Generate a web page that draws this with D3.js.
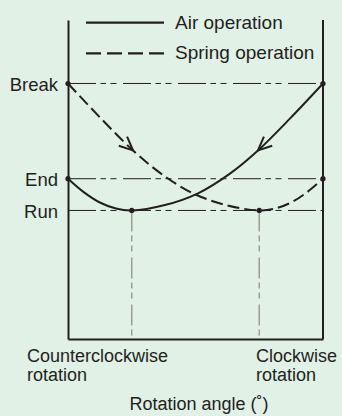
<!DOCTYPE html>
<html>
<head>
<meta charset="utf-8">
<script src="https://cdn.jsdelivr.net/npm/d3@7"></script>
<style>
  html, body { margin: 0; padding: 0; background: #e1f1e6; }
  #chart { width: 342px; height: 416px; }
  text { font-family: "Liberation Sans", Arial, sans-serif; fill: #231f20; }
</style>
</head>
<body>
<div id="chart"></div>
<script>
// levels on the torque axis
const levelNames = ["Break", "End", "Run"];
const levelValues = [5, 2, 1];

// rotation angle (0 = counterclockwise end, 100 = clockwise end)
const airX = [0, 6.3, 12.5, 18.8, 25, 38, 51, 63.5, 74.5, 87.1, 100];
const airY = [2, 1.57, 1.25, 1.06, 1, 1.17, 1.54, 2.16, 2.89, 3.9, 5];
const springX = [0, 12.9, 25.5, 36.5, 49, 62, 75, 81.2, 87.5, 93.7, 100];
const springY = [5, 3.9, 2.89, 2.16, 1.54, 1.17, 1, 1.06, 1.25, 1.57, 2];

// minimum points (run torque) for each operation
const minX = [25, 75];

const seriesNames = ["Air operation", "Spring operation"];
const xLabels = [["Counterclockwise", "rotation"], ["Clockwise", "rotation"]];
const xTitle = "Rotation angle (\u02da)";

const width = 342, height = 416;
const margin = { top: 20, right: 19, bottom: 77, left: 68 };

const svg = d3.select("#chart")
  .append("svg")
  .attr("width", width)
  .attr("height", height);

const x = d3.scaleLinear()
  .domain([0, 100])
  .range([margin.left, width - margin.right]);

const y = d3.scaleLinear()
  .domain([-3.05, 7])
  .range([height - margin.bottom, margin.top]);

const ink = "#231f20";

// reference lines for each level
svg.selectAll(".level-line")
  .data(levelValues)
  .enter().append("line")
  .attr("class", "level-line")
  .attr("x1", x(0))
  .attr("x2", x(100))
  .attr("y1", d => y(d))
  .attr("y2", d => y(d))
  .attr("stroke", ink)
  .attr("stroke-width", 1)
  .attr("stroke-dasharray", "28,4.5,5.5,4.5,6,6.5");

// gray drop lines from the minimum points
svg.selectAll(".drop-line")
  .data(minX)
  .enter().append("line")
  .attr("class", "drop-line")
  .attr("x1", d => x(d))
  .attr("x2", d => x(d))
  .attr("y1", y(levelValues[2]))
  .attr("y2", y(y.domain()[0]))
  .attr("stroke", "#9b9d9c")
  .attr("stroke-width", 1.5)
  .attr("stroke-dasharray", "21,4,6,4,6,6");

// left axis with level labels
const yAxis = d3.axisLeft(y)
  .tickValues(levelValues)
  .tickFormat((d, i) => levelNames[i])
  .tickSize(0)
  .tickSizeOuter(0)
  .tickPadding(10);

const gy = svg.append("g")
  .attr("transform", `translate(${x(0)},0)`)
  .call(yAxis);
gy.select(".domain").attr("stroke", ink).attr("stroke-width", 2);
gy.selectAll("text")
  .style("font-size", "18.5px")
  .style("font-family", "'Liberation Sans', Arial, sans-serif")
  .attr("dy", "0.36em")
  .attr("fill", ink);

// right frame line
svg.append("line")
  .attr("x1", x(100)).attr("x2", x(100))
  .attr("y1", y.range()[1]).attr("y2", y.range()[0])
  .attr("stroke", ink)
  .attr("stroke-width", 2);

// bottom axis
const gx = svg.append("g")
  .attr("transform", `translate(0,${y(y.domain()[0])})`)
  .call(d3.axisBottom(x).tickValues([]).tickSizeOuter(0));
gx.select(".domain").attr("stroke", ink).attr("stroke-width", 2);

// curves
const line = d3.line()
  .x(d => x(d[0]))
  .y(d => y(d[1]))
  .curve(d3.curveCatmullRom.alpha(0.5));

const airData = airX.map((v, i) => [v, airY[i]]);
const springData = springX.map((v, i) => [v, springY[i]]);

svg.append("path")
  .datum(airData)
  .attr("d", line)
  .attr("fill", "none")
  .attr("stroke", ink)
  .attr("stroke-width", 2);

svg.append("path")
  .datum(springData)
  .attr("d", line)
  .attr("fill", "none")
  .attr("stroke", ink)
  .attr("stroke-width", 2)
  .attr("stroke-dasharray", "12,5");

// direction arrows (open V heads)
function arrowHead(data, idx, reverse) {
  const p = data[idx];
  const a = data[idx - 1], b = data[idx + 1];
  let dx = x(b[0]) - x(a[0]);
  let dy = y(b[1]) - y(a[1]);
  if (reverse) { dx = -dx; dy = -dy; }
  const ang = Math.atan2(dy, dx) + Math.PI;
  const len = 15, spread = 0.42;
  const tx = x(p[0]), ty = y(p[1]);
  const w1 = [tx + len * Math.cos(ang - spread), ty + len * Math.sin(ang - spread)];
  const w2 = [tx + len * Math.cos(ang + spread), ty + len * Math.sin(ang + spread)];
  svg.append("path")
    .attr("d", `M${w1[0]},${w1[1]}L${tx},${ty}L${w2[0]},${w2[1]}`)
    .attr("fill", "none")
    .attr("stroke", ink)
    .attr("stroke-width", 2);
}
arrowHead(springData, 2, false);
arrowHead(airData, 8, true);

// end and minimum dots
const dots = [
  [0, levelValues[0]], [0, levelValues[1]],
  [100, levelValues[0]], [100, levelValues[1]],
  [minX[0], levelValues[2]], [minX[1], levelValues[2]]
];
svg.selectAll(".dot")
  .data(dots)
  .enter().append("circle")
  .attr("class", "dot")
  .attr("cx", d => x(d[0]))
  .attr("cy", d => y(d[1]))
  .attr("r", 2.6)
  .attr("fill", ink);

// legend
const legend = svg.append("g").attr("transform", "translate(86,0)");
const legendRows = [22.7, 53.3];
seriesNames.forEach((name, i) => {
  legend.append("line")
    .attr("x1", 0).attr("x2", 78)
    .attr("y1", legendRows[i]).attr("y2", legendRows[i])
    .attr("stroke", ink)
    .attr("stroke-width", 2.2)
    .attr("stroke-dasharray", i === 1 ? "15,6" : null);
  legend.append("text")
    .attr("x", 89)
    .attr("y", legendRows[i] + 6)
    .style("font-size", "19px")
    .text(name);
});

// x labels
const xLabelPos = [27, 256];
xLabels.forEach((lines, i) => {
  const t = svg.append("text")
    .attr("x", xLabelPos[i])
    .attr("y", 362)
    .style("font-size", "18px");
  lines.forEach((s, j) => {
    t.append("tspan")
      .attr("x", xLabelPos[i])
      .attr("dy", j === 0 ? 0 : 19)
      .text(s);
  });
});

svg.append("text")
  .attr("x", 199)
  .attr("y", 410)
  .attr("text-anchor", "middle")
  .style("font-size", "18px")
  .text(xTitle);
</script>
</body>
</html>
